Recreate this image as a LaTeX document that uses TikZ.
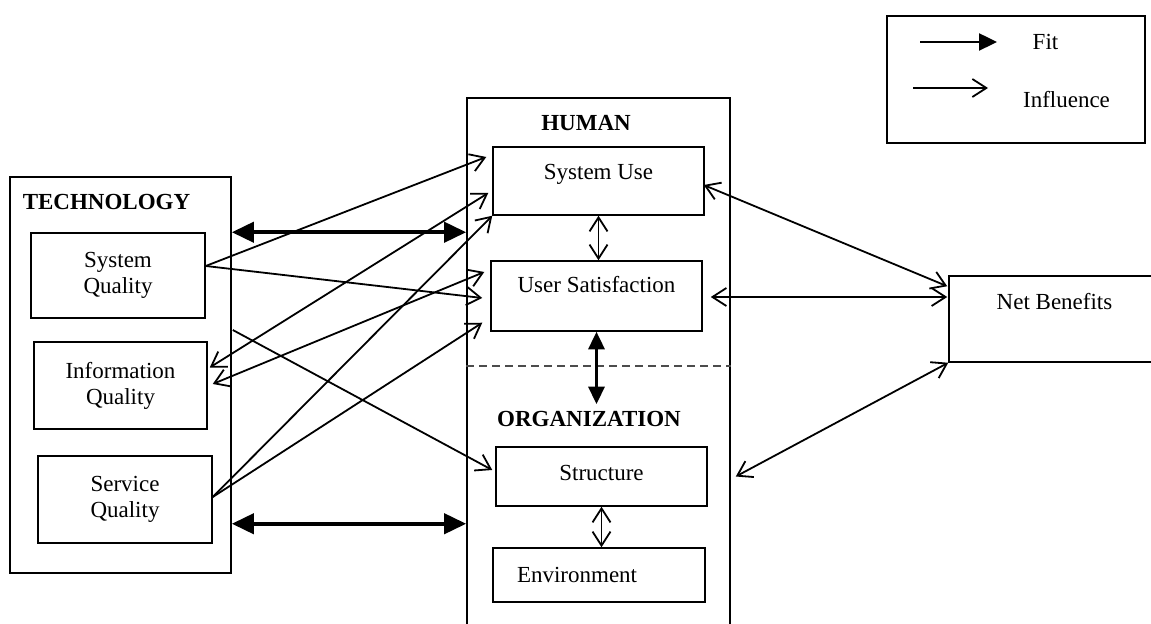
\documentclass[tikz,border=0pt]{standalone}
\usepackage{fontspec}
\setmainfont{Liberation Serif}
\usetikzlibrary{arrows.meta,calc}
\newcommand\figfont{\fontsize{11.5pt}{13pt}\selectfont}
\tikzset{
  box/.style={draw, line width=0.75pt, align=center, inner sep=3pt},
  groupbox/.style={draw, line width=0.8pt},
  grouplabel/.style={font=\figfont\bfseries},
  lift/.style={text height=8pt, text depth=#1},
  inf/.style={line width=0.9pt, -{Straight Barb[length=7pt,width=9pt]}},
  infboth/.style={line width=0.9pt, {Straight Barb[length=7pt,width=9pt]}-{Straight Barb[length=7pt,width=9pt]}},
  fitboth/.style={line width=2pt, {Triangle[length=0pt 5.5,width=0pt 5]}-{Triangle[length=0pt 5.5,width=0pt 5]}},
  fitone/.style={line width=1.2pt, -{Triangle[length=9pt,width=8.5pt]}}
}

\begin{document}
\begin{tikzpicture}[x=0.5pt, y=-0.5pt, font=\figfont]

    \useasboundingbox (0,0) rectangle (1151,624);
    \fill[white] (0,0) rectangle (1151,624);
    \clip (0,0) rectangle (1151,624);

    % Technology

    \node[groupbox, minimum width=110.5pt, minimum height=198pt] (tech) at (120.5,375) {};
    \node[grouplabel] (techlabel) at (106.5,202) {TECHNOLOGY};
    \node[box, minimum width=87pt, minimum height=42.5pt] (sysq) at (118,275.5) {System\\Quality};
    \node[box, minimum width=86.5pt, minimum height=43.5pt] (infoq) at (120.5,385.5) {Information\\Quality};
    \node[box, minimum width=87pt, minimum height=43.5pt] (servq) at (125,499.5) {Service\\Quality};

    % Human and organization

    \node[groupbox, minimum width=131.5pt, minimum height=281pt] (humorg) at (598.5,379) {};
    \node[grouplabel] (humlabel) at (586,123) {HUMAN};
    \node[box, lift=9.4pt, minimum width=105.5pt, minimum height=34pt] (su) at (598.5,181) {System Use};
    \node[box, lift=11.4pt, minimum width=105.5pt, minimum height=35pt] (us) at (596.5,296) {User Satisfaction};

    \coordinate (split) at (598,366);
    \draw[line width=0.8pt, black!70, dash pattern=on 4pt off 2.5pt]
    (humorg.west |- split) -- (humorg.east |- split);

    \node[grouplabel] (orglabel) at (589,419) {ORGANIZATION};
    \node[box, lift=3.9pt, minimum width=105.5pt, minimum height=29.5pt] (str) at (601.5,476.5) {Structure};
    \node[box, align=left, text width=82pt, inner xsep=12pt, minimum width=106pt, minimum height=27pt] (env) at (599,575) {Environment};

    % Net benefits

    \node[box, lift=17.4pt, minimum width=105.5pt, minimum height=43pt] (nb) at (1054.5,319) {Net Benefits};

    % Legend

    \node[box, minimum width=129pt, minimum height=63.5pt] (legend) at (1016,79.5) {};
    \coordinate (fitA) at (920,42);
    \coordinate (fitB) at (997,42);
    \coordinate (infA) at (913,88);
    \coordinate (infB) at (988,88);
    \node (fitlabel) at (1045.5,42) {Fit};
    \node (inflabel) at (1066.5,100) {Influence};
    \draw[fitone] (fitA) -- (fitB);
    \draw[inf] (infA) -- (infB);

    % Technology to human

    \draw[inf] ($(sysq.east)+(0,-9.5)$) -- ($(su.west)+(-6,-24)$);
    \draw[inf] ($(sysq.east)+(0,-9.5)$) -- ($(us.west)+(-8,2)$);
    \draw[infboth] ($(infoq.east)+(2,-18)$) -- ($(su.west)+(-4,12)$);
    \draw[infboth] ($(infoq.east)+(5,-1.5)$) -- ($(us.west)+(-6,-24)$);
    \draw[inf] ($(servq.east)+(0,-2.5)$) -- (su.south west);
    \draw[inf] ($(servq.east)+(0,-2.5)$) -- ($(us.south west)+(-8,-9)$);
    \draw[inf] ($(tech.east)+(1,-45)$) -- ($(str.west)+(-3,-6.5)$);

    \draw[fitboth] (tech.east |- sysq.north) -- (humorg.west |- sysq.north);
    \draw[fitboth] ($(tech.east |- servq.south)+(0,-20)$) -- ($(humorg.west |- servq.south)+(0,-20)$);
    \draw[fitboth, line width=1.6pt] (us.south) -- (us.south |- orglabel.north);

    \draw[infboth] (su.south) -- (su.south |- us.north);
    \draw[infboth] (str.south) -- (str.south |- env.north);

    % To net benefits

    \draw[infboth] ($(su.east)+(-1,4)$) -- ($(nb.north west)+(-1,11)$);
    \draw[infboth] ($(us.east)+(8,1)$) -- ($(nb.west)+(-1,-22)$);
    \draw[infboth] (nb.south west) -- ($(humorg.east |- str.east)+(5,0)$);

\end{tikzpicture}
\end{document}
